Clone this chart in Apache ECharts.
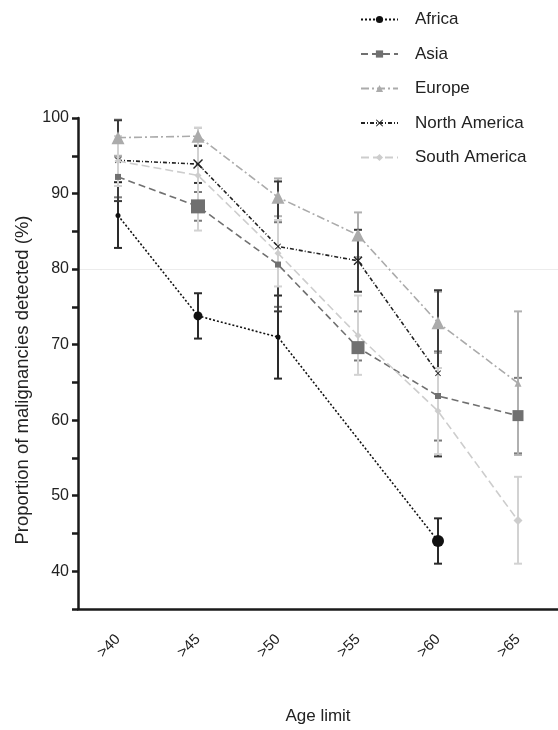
<!DOCTYPE html>
<html>
<head>
<meta charset="utf-8">
<script src="https://cdn.jsdelivr.net/npm/echarts@6/dist/echarts.min.js"></script>
<style>html,body{margin:0;padding:0;background:#fff}#c{width:558px;height:730px}</style>
</head>
<body>
<div id="c"></div>
<script>
var categories = ['>40', '>45', '>50', '>55', '>60', '>65'];
var seriesNames = ['Africa', 'Asia', 'Europe', 'North America', 'South America'];
var xAxisTitle = 'Age limit';
var yAxisTitle = 'Proportion of malignancies detected (%)';

var africa = [87.1, 73.8, 71.0, null, 44.0, null];
var africaLow = [82.8, 70.8, 65.5, null, 41.0, null];
var africaHigh = [91.5, 76.8, 76.5, null, 47.0, null];

var asia = [92.2, 88.3, 80.6, 69.6, 63.2, 60.6];
var asiaLow = [89.5, 86.4, 75.0, 67.9, 57.3, 55.6];
var asiaHigh = [94.9, 90.2, 86.2, 74.4, 69.1, 65.6];

var europe = [97.4, 97.6, 89.5, 84.5, 72.9, 64.9];
var europeLow = [95.0, 96.4, 87.0, 81.6, 68.9, 55.4];
var europeHigh = [99.8, 98.7, 92.0, 87.5, 77.0, 74.4];

var northAmerica = [94.4, 93.9, 83.0, 81.1, 66.2, null];
var northAmericaLow = [89.0, 91.4, 74.4, 77.0, 55.2, null];
var northAmericaHigh = [99.7, 96.3, 91.6, 85.2, 77.2, null];

var southAmerica = [94.3, 92.4, 82.1, 71.2, 61.2, 46.7];
var southAmericaLow = [91.0, 85.1, 77.7, 66.0, 55.5, 41.0];
var southAmericaHigh = [97.6, 98.7, 86.5, 76.5, 66.9, 52.5];

var yTickValues = [40, 50, 60, 70, 80, 90, 100];
var referenceLineValue = 80;

// styling (not data)
var styles = [
  {color: '#111111', bar: '#2a2a2a', symbol: 'circle', sizes: [5, 9, 5, 5, 12, 5], dash: [2, 2]},
  {color: '#707070', bar: '#7a7a7a', symbol: 'rect', sizes: [6, 14, 6, 13, 6, 11], dash: [7, 4]},
  {color: '#ababab', bar: '#b0b0b0', symbol: 'triangle', sizes: [13, 13, 13, 13, 13, 7], dash: [8, 3, 2, 3]},
  {color: '#222222', bar: '#3a3a3a', symbol: 'path://M0,1 L1,0 L5,4 L9,0 L10,1 L6,5 L10,9 L9,10 L5,6 L1,10 L0,9 L4,5 Z', sizes: [6, 10, 6, 9, 6, 6], dash: [4, 2, 1, 2]},
  {color: '#cdcdcd', bar: '#d2d2d2', symbol: 'diamond', sizes: [7, 7, 7, 7, 7, 9], dash: [8, 4]}
];
var values = [africa, asia, europe, northAmerica, southAmerica];
var lows = [africaLow, asiaLow, europeLow, northAmericaLow, southAmericaLow];
var highs = [africaHigh, asiaHigh, europeHigh, northAmericaHigh, southAmericaHigh];

var FONT = 'Liberation Sans, Arial, sans-serif';
var series = [];
seriesNames.forEach(function (name, si) {
  var st = styles[si];
  var errData = [];
  values[si].forEach(function (v, i) {
    if (v !== null) errData.push([i, lows[si][i], highs[si][i]]);
  });
  series.push({
    name: name + ' CI',
    type: 'custom',
    z: 1,
    silent: true,
    data: errData,
    renderItem: function (params, api) {
      var x = api.value(0);
      var lo = api.coord([x, api.value(1)]);
      var hi = api.coord([x, api.value(2)]);
      var w = 4;
      var s = {stroke: st.bar, lineWidth: 2};
      return {
        type: 'group',
        children: [
          {type: 'line', shape: {x1: lo[0], y1: lo[1], x2: hi[0], y2: hi[1]}, style: s},
          {type: 'line', shape: {x1: hi[0] - w, y1: hi[1], x2: hi[0] + w, y2: hi[1]}, style: s},
          {type: 'line', shape: {x1: lo[0] - w, y1: lo[1], x2: lo[0] + w, y2: lo[1]}, style: s}
        ]
      };
    }
  });
});
seriesNames.forEach(function (name, si) {
  var st = styles[si];
  var s = {
    name: name,
    type: 'line',
    z: 3,
    connectNulls: true,
    symbol: st.symbol,
    symbolSize: 7,
    showAllSymbol: true,
    data: values[si].map(function (v, i) {
      return v === null ? null : {value: v, symbolSize: st.sizes[i]};
    }),
    itemStyle: {color: st.color, opacity: 1},
    lineStyle: {color: st.color, width: 1.6, type: st.dash},
    emphasis: {disabled: true},
    animation: false
  };
  if (si === 0) {
    s.markLine = {
      silent: true,
      symbol: 'none',
      label: {show: false},
      lineStyle: {color: '#ececec', width: 1, type: 'solid'},
      data: [{yAxis: referenceLineValue}],
      z: 0
    };
  }
  series.push(s);
});

var chart = echarts.init(document.getElementById('c'), null, {renderer: 'canvas'});
chart.setOption({
  animation: false,
  backgroundColor: '#ffffff',
  textStyle: {fontFamily: FONT},
  grid: {left: 78, right: -3, top: 118, bottom: 112, containLabel: false},
  legend: {
    data: seriesNames,
    orient: 'vertical',
    left: 355,
    top: 6,
    itemWidth: 37,
    itemHeight: 9,
    itemGap: 17.5,
    selectedMode: false,
    textStyle: {fontSize: 17, color: '#222', fontFamily: FONT, padding: [0, 0, 0, 12]}
  },
  graphic: [{
    type: 'text',
    x: 23,
    y: 380,
    rotation: Math.PI / 2,
    style: {
      text: yAxisTitle,
      font: '18.5px Liberation Sans, Arial, sans-serif',
      fill: '#222',
      textAlign: 'center',
      textVerticalAlign: 'middle'
    }
  }],
  xAxis: {
    type: 'category',
    data: categories,
    boundaryGap: true,
    name: xAxisTitle,
    nameLocation: 'middle',
    nameGap: 99,
    nameTextStyle: {fontSize: 17, color: '#222', fontFamily: FONT},
    axisLine: {lineStyle: {color: '#1a1a1a', width: 2.5}},
    axisTick: {alignWithLabel: true, length: 6, lineStyle: {color: '#1a1a1a', width: 2.5}},
    axisLabel: {rotate: 45, margin: 28, fontSize: 15, color: '#222', fontFamily: FONT},
    splitLine: {show: false}
  },
  yAxis: {
    type: 'value',
    min: 35,
    max: 100,
    interval: 5,
    axisLine: {show: true, lineStyle: {color: '#1a1a1a', width: 2.5}},
    axisTick: {show: true, length: 6, lineStyle: {color: '#1a1a1a', width: 2.5}},
    axisLabel: {
      margin: 9, fontSize: 16, color: '#222', fontFamily: FONT,
      formatter: function (v) { return yTickValues.indexOf(v) >= 0 ? String(v) : ''; }
    },
    splitLine: {show: false}
  },
  series: series
});
</script>
</body>
</html>
